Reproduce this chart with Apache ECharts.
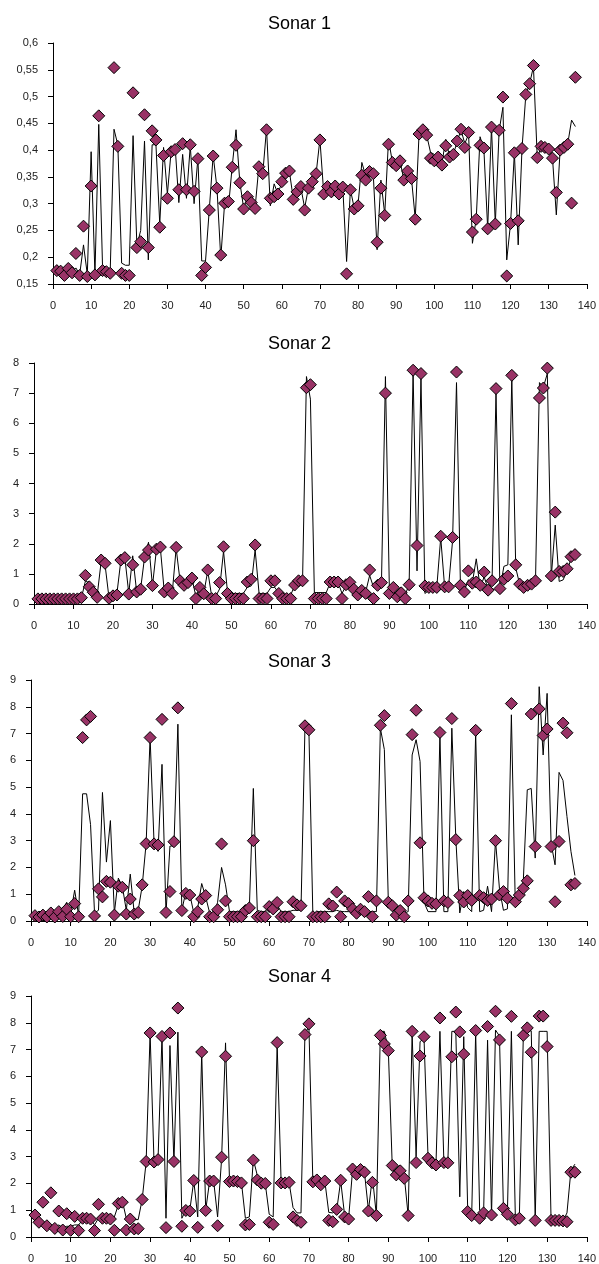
<!DOCTYPE html>
<html>
<head>
<meta charset="utf-8">
<script src="https://cdn.jsdelivr.net/npm/echarts@6/dist/echarts.min.js"></script>
<style>
  html, body { margin: 0; padding: 0; background: #fff; }
  #chart { width: 599px; height: 1264px; }
</style>
</head>
<body>
<div id="chart"></div>
<script>
const titles = ["Sonar 1", "Sonar 2", "Sonar 3", "Sonar 4"];

// diamonds = measured readings, line = reference trace (index 1..137)
const sonar1Points = [0.175,0.174,0.166,0.179,0.171,0.207,0.166,0.258,0.164,0.333,
  0.167,0.464,0.175,0.173,0.170,0.554,0.407,0.170,0.166,0.166,
  0.507,0.218,0.229,0.466,0.218,0.436,0.419,0.256,0.390,0.310,
  0.397,0.401,0.326,0.412,0.326,0.410,0.323,0.384,0.166,0.181,
  0.288,0.389,0.329,0.204,0.301,0.304,0.368,0.409,0.339,0.290,
  0.313,0.302,0.291,0.369,0.356,0.438,0.310,0.313,0.318,0.341,
  0.357,0.361,0.308,0.322,0.332,0.288,0.329,0.341,0.356,0.419,
  0.318,0.332,0.322,0.333,0.318,0.331,0.169,0.326,0.290,0.296,
  0.353,0.344,0.360,0.356,0.228,0.329,0.278,0.411,0.377,0.371,
  0.380,0.344,0.361,0.347,0.271,0.430,0.438,0.428,0.385,0.380,
  0.387,0.372,0.408,0.387,0.392,0.417,0.439,0.405,0.433,0.247,
  0.271,0.409,0.404,0.253,0.443,0.262,0.437,0.499,0.165,0.263,
  0.395,0.268,0.403,0.504,0.524,0.558,0.386,0.407,0.405,0.402,
  0.385,0.321,0.400,0.405,0.411,0.301,0.536];
const sonar1Line = [0.175,0.172,0.170,0.176,0.172,0.180,0.168,0.223,0.168,0.397,
  0.168,0.448,0.180,0.178,0.172,0.439,0.410,0.189,0.185,0.185,
  0.427,0.222,0.250,0.417,0.195,0.410,0.410,0.262,0.405,0.318,
  0.400,0.410,0.302,0.392,0.310,0.408,0.300,0.385,0.193,0.193,
  0.290,0.390,0.330,0.198,0.300,0.292,0.370,0.438,0.340,0.292,
  0.312,0.300,0.292,0.370,0.355,0.440,0.296,0.337,0.318,0.340,
  0.358,0.360,0.310,0.322,0.330,0.292,0.330,0.340,0.356,0.420,
  0.320,0.330,0.322,0.332,0.320,0.330,0.192,0.326,0.292,0.298,
  0.377,0.352,0.360,0.354,0.214,0.344,0.280,0.420,0.378,0.370,
  0.380,0.345,0.360,0.348,0.272,0.430,0.440,0.428,0.396,0.392,
  0.385,0.375,0.420,0.388,0.392,0.416,0.438,0.412,0.430,0.226,
  0.272,0.425,0.402,0.254,0.442,0.262,0.436,0.480,0.195,0.263,
  0.395,0.223,0.403,0.503,0.524,0.556,0.386,0.405,0.410,0.408,
  0.385,0.279,0.400,0.406,0.412,0.456,0.444];

const sonar2Points = [0.17,0.17,0.17,0.17,0.17,0.17,0.17,0.17,0.17,0.17,
  0.17,0.21,0.95,0.57,0.39,0.22,1.46,1.35,0.19,0.27,
  0.30,1.46,1.54,0.33,1.30,0.40,0.49,1.56,1.79,0.61,
  1.82,1.89,0.40,0.53,0.35,1.88,0.77,0.62,0.71,0.86,
  0.18,0.55,0.34,1.13,0.18,0.18,0.71,1.90,0.35,0.18,
  0.18,0.18,0.18,0.73,0.82,1.96,0.18,0.18,0.18,0.77,
  0.77,0.35,0.18,0.18,0.18,0.63,0.77,0.77,7.18,7.28,
  0.18,0.18,0.18,0.18,0.73,0.73,0.73,0.18,0.64,0.72,
  0.49,0.30,0.45,0.35,1.13,0.18,0.62,0.71,7.00,0.35,
  0.55,0.24,0.37,0.18,0.64,7.76,1.94,7.65,0.60,0.55,
  0.55,0.55,2.25,0.57,0.57,2.21,7.70,0.62,0.40,1.10,
  0.69,0.73,0.62,1.06,0.46,0.77,7.15,0.51,0.82,0.93,
  7.59,1.30,0.66,0.55,0.62,0.66,0.77,6.84,7.17,7.83,
  0.93,3.05,1.08,1.08,1.17,1.57,1.64];
const sonar2Line = [0.17,0.17,0.17,0.17,0.17,0.17,0.17,0.17,0.17,0.17,
  0.17,0.20,0.75,0.72,0.35,0.28,1.40,1.30,0.20,0.30,
  0.35,1.45,1.55,0.35,1.60,0.40,0.50,1.55,2.05,0.60,
  1.80,1.85,0.40,0.55,0.35,1.85,0.75,0.60,0.70,0.85,
  0.25,0.55,0.35,1.10,0.25,0.25,0.50,1.75,0.40,0.35,
  0.35,0.35,0.35,0.55,0.60,1.80,0.35,0.35,0.35,0.55,
  0.55,0.35,0.25,0.25,0.30,0.60,0.70,0.70,7.55,6.80,
  0.38,0.38,0.38,0.38,0.70,0.72,0.72,0.35,0.60,0.70,
  0.50,0.35,0.45,0.40,0.95,0.55,0.65,0.75,7.55,0.45,
  0.45,0.30,0.35,0.30,0.65,7.70,1.10,7.50,0.35,0.45,
  0.50,0.55,2.20,0.55,0.60,2.10,7.35,0.55,0.45,0.80,
  0.70,1.50,0.55,0.90,0.50,0.75,7.00,0.50,1.25,1.30,
  7.50,1.20,0.65,0.55,0.60,0.65,0.75,7.35,7.20,7.65,
  0.90,2.62,0.75,0.80,1.10,1.50,1.65];

const sonar3Points = [0.20,0.15,0.22,0.15,0.30,0.15,0.35,0.17,0.44,0.16,
  0.65,0.16,6.85,7.51,7.64,0.19,1.20,0.90,1.48,1.45,
  0.22,1.30,1.26,0.26,0.82,0.26,0.32,1.35,2.89,6.85,
  2.88,2.84,7.53,0.32,1.10,2.96,7.96,0.39,1.03,0.97,
  0.16,0.35,0.82,0.95,0.16,0.16,0.42,2.88,0.75,0.16,
  0.16,0.16,0.16,0.39,0.49,3.00,0.16,0.16,0.16,0.54,
  0.45,0.69,0.16,0.16,0.16,0.72,0.60,0.57,7.29,7.14,
  0.16,0.16,0.16,0.16,0.64,0.56,1.08,0.16,0.75,0.65,
  0.45,0.29,0.44,0.35,0.91,0.16,0.75,7.31,7.67,0.70,
  0.57,0.22,0.39,0.16,0.75,6.96,7.87,2.92,0.87,0.75,
  0.66,0.64,7.04,0.75,0.69,7.56,3.04,0.95,0.71,0.95,
  0.77,7.12,0.95,0.87,0.77,0.82,3.00,0.97,1.10,0.85,
  8.12,0.72,0.97,1.22,1.50,7.73,2.78,7.92,6.93,7.17,
  2.78,0.72,2.97,7.39,7.03,1.35,1.40];
const sonar3Line = [0.15,0.25,0.20,0.25,0.20,0.30,0.25,0.45,0.70,0.30,
  1.15,0.20,4.75,4.75,3.60,0.30,0.40,4.80,2.20,3.75,
  0.30,1.60,1.30,0.40,1.75,0.30,0.40,1.30,2.90,6.85,
  2.90,2.60,5.85,0.30,2.80,2.80,7.35,0.40,1.10,1.00,
  0.30,0.50,1.40,0.90,0.30,0.20,0.70,2.00,1.35,0.35,
  0.35,0.35,0.35,0.40,0.50,4.95,0.40,0.35,0.35,0.60,
  0.50,0.60,0.35,0.35,0.35,0.40,0.40,0.40,7.20,7.10,
  0.20,0.35,0.35,0.35,0.35,0.35,0.40,0.35,0.35,0.35,
  0.35,0.35,0.40,0.35,0.35,0.35,0.35,7.20,6.40,0.75,
  0.50,0.30,0.40,0.30,0.35,6.20,6.77,5.96,0.70,0.35,
  0.35,0.35,7.00,0.35,0.35,7.20,3.10,0.30,1.10,0.50,
  0.35,7.05,0.35,0.40,1.30,0.35,3.00,1.20,0.40,0.45,
  7.70,0.50,0.80,1.50,4.90,4.95,2.35,8.75,6.20,8.50,
  2.90,2.10,5.55,5.25,3.90,2.60,1.70];

const sonar4Points = [0.82,0.55,1.30,0.42,1.65,0.32,0.97,0.26,0.87,0.25,
  0.77,0.24,0.70,0.70,0.67,0.24,1.22,0.70,0.70,0.67,
  0.25,1.25,1.30,0.26,0.67,0.30,0.31,1.40,2.82,7.62,
  2.80,2.89,7.49,0.35,7.62,2.82,8.55,0.40,0.99,0.97,
  2.11,0.36,6.91,0.99,2.09,2.09,0.42,2.98,6.75,2.07,
  2.09,2.07,2.02,0.45,0.47,2.87,2.13,2.01,2.00,0.55,
  0.47,7.26,2.02,2.02,2.04,0.75,0.62,0.55,7.56,7.96,
  2.06,2.13,1.95,2.09,0.62,0.57,1.03,2.12,0.75,0.67,
  2.54,2.34,2.52,2.42,0.97,2.04,0.80,7.53,7.21,6.96,
  2.67,2.32,2.47,2.19,0.80,7.68,2.78,6.76,7.48,2.94,
  2.77,2.69,8.18,2.78,2.77,6.73,8.40,7.66,6.83,0.95,
  0.80,7.71,0.70,0.90,7.86,0.82,8.43,7.36,1.07,0.85,
  8.24,0.64,0.70,7.53,7.81,6.90,0.62,8.25,8.25,7.11,
  0.62,0.62,0.62,0.60,0.57,2.42,2.42];
const sonar4Line = [0.85,0.55,0.50,0.42,0.40,0.35,0.45,0.35,0.40,0.40,
  0.45,0.45,0.65,0.70,0.70,0.45,0.70,0.70,0.70,0.70,
  0.75,1.20,1.35,0.70,0.65,0.65,0.65,1.40,2.80,7.60,
  2.75,2.90,7.50,0.70,7.15,2.80,7.65,0.70,1.00,1.00,
  2.10,0.75,6.90,1.00,2.10,2.10,0.75,2.90,7.25,2.10,
  2.10,2.05,2.05,0.70,0.75,2.90,2.30,2.05,2.00,0.85,
  0.75,7.20,2.05,2.05,2.05,1.10,0.90,0.90,7.60,7.85,
  2.05,2.10,2.00,2.10,0.92,0.90,1.00,2.10,0.80,0.70,
  2.50,2.35,2.50,2.40,1.00,2.25,0.80,7.68,7.68,7.00,
  2.60,2.30,2.40,2.30,0.80,7.60,3.00,7.30,7.40,3.00,
  2.80,2.70,7.68,2.80,2.80,7.68,7.68,1.50,7.48,1.00,
  0.80,7.65,1.00,0.90,7.35,0.80,7.73,7.50,1.00,0.90,
  7.68,0.70,0.70,7.50,7.70,7.70,0.65,7.68,7.68,7.68,
  0.60,0.60,0.60,0.60,0.90,2.50,2.72];

const pointSets = [sonar1Points, sonar2Points, sonar3Points, sonar4Points];
const lineSets = [sonar1Line, sonar2Line, sonar3Line, sonar4Line];
const yMins = [0.15, 0, 0, 0];
const yMaxs = [0.6, 8, 9, 9];
const yIntervals = [0.05, 1, 1, 1];

// panel boxes
const panels = [
  { left: 53, top: 43, height: 241, titleTop: 10 },
  { left: 34, top: 363, height: 241, titleTop: 330 },
  { left: 31, top: 680, height: 241, titleTop: 648 },
  { left: 31, top: 996, height: 241, titleTop: 963 }
];

const font = "Liberation Sans, Arial, sans-serif";
const toXY = arr => arr.map((v, i) => [i + 1, v]);

const chart = echarts.init(document.getElementById("chart"));
const option = {
  backgroundColor: "#fff",
  animation: false,
  title: titles.map((t, k) => ({
    text: t,
    left: "center",
    top: panels[k].titleTop,
    textStyle: { fontFamily: font, fontSize: 18, fontWeight: "normal", color: "#000" }
  })),
  grid: panels.map(p => ({ left: p.left, right: 11, top: p.top, height: p.height })),
  xAxis: panels.map((p, k) => ({
    type: "value",
    gridIndex: k,
    min: 0,
    max: 140,
    interval: 10,
    axisLine: { onZero: false, lineStyle: { color: "#000", width: 1 } },
    axisTick: { show: true, length: 5, lineStyle: { color: "#000" } },
    axisLabel: { fontFamily: font, fontSize: 11, color: "#222", margin: 16 },
    splitLine: { show: false }
  })),
  yAxis: panels.map((p, k) => ({
    type: "value",
    gridIndex: k,
    min: yMins[k],
    max: yMaxs[k],
    interval: yIntervals[k],
    axisLine: { show: true, onZero: false, lineStyle: { color: "#000", width: 1 } },
    axisTick: { show: true, length: 5, lineStyle: { color: "#000" } },
    axisLabel: {
      fontFamily: font, fontSize: 11, color: "#222", margin: 15,
      formatter: v => String(+v.toFixed(2)).replace(".", ",")
    },
    splitLine: { show: false }
  })),
  series: []
};

for (let k = 0; k < 4; k++) {
  option.series.push({
    type: "line",
    xAxisIndex: k,
    yAxisIndex: k,
    data: toXY(lineSets[k]),
    showSymbol: false,
    symbol: "none",
    lineStyle: { color: "#000", width: 1 },
    z: 2
  });
  option.series.push({
    type: "scatter",
    xAxisIndex: k,
    yAxisIndex: k,
    data: toXY(pointSets[k]),
    symbol: "diamond",
    symbolSize: 12,
    itemStyle: { color: "#993366", opacity: 1, borderColor: "#000", borderWidth: 1 },
    z: 3
  });
}

chart.setOption(option);
</script>
</body>
</html>
